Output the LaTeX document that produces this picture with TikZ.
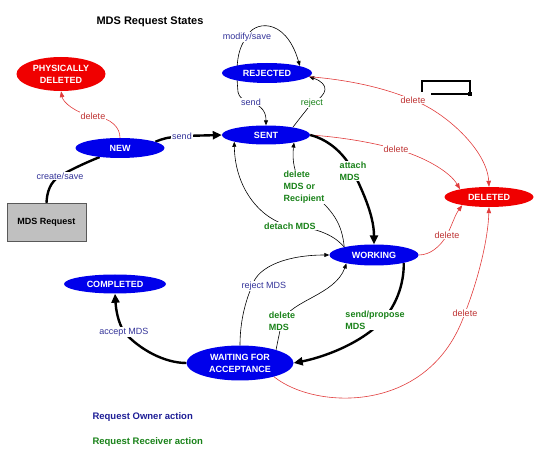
\documentclass[tikz,border=0pt]{standalone}
\usepackage{fontspec}
\setmainfont{Liberation Sans}
\usetikzlibrary{arrows.meta,shapes.geometric}
\definecolor{StateBlue}{RGB}{0,0,235}
\definecolor{StateRed} {RGB}{240,0,0}
\definecolor{OwnerText}{RGB}{51,51,153}
\definecolor{LegBlue}  {RGB}{30,30,150}
\definecolor{RecvText} {RGB}{25,130,25}
\definecolor{DelText}  {RGB}{190,50,50}
\definecolor{DelLine}  {RGB}{225,60,60}
\definecolor{BoxGray}  {RGB}{192,192,192}
\pgfdeclarelayer{back}
\pgfsetlayers{back,main}

\begin{document}
\begin{tikzpicture}[x=1pt,y=-1pt,
  every node/.style={align=center,font=\fontsize{9}{12}\selectfont},
  state/.style={ellipse,fill=StateBlue,text=white,inner sep=0pt,
    font=\fontsize{9}{12}\selectfont\bfseries,minimum width=89pt,minimum height=20pt},
  gone/.style={state,fill=StateRed},
  owner/.style={fill=white,inner sep=1pt,text=OwnerText},
  recv/.style={fill=white,inner sep=1pt,text=RecvText},
  recvb/.style={recv,font=\fontsize{9}{12}\selectfont\bfseries},
  dellbl/.style={fill=white,inner sep=1pt,text=DelText},
  conn/.style={line width=0.6pt,-{Triangle[length=5pt,width=4pt]}},
  redconn/.style={line width=0.6pt,draw=DelLine,-{Triangle[length=6pt,width=4.5pt]}},
  heavy/.style={line width=2.4pt},
  bigtip/.style={-{Triangle[length=9pt,width=8pt]}}]
\useasboundingbox (0,0) rectangle (550,465);
\node[font=\fontsize{11}{13}\selectfont\bfseries] (title) at (150,22) {MDS Request States};
\node[gone,minimum height=34pt] (phys) at (61,74) {PHYSICALLY\\DELETED};
\node[state,minimum width=90pt] (rej) at (267,73) {REJECTED};
\node[state] (new) at (120,148) {NEW};
\node[state,minimum width=88pt,minimum height=19pt] (sent) at (266,135) {SENT};
\node[gone] (del) at (489,197) {DELETED};
\node[state,minimum height=21pt] (work) at (374,255) {WORKING};
\node[state,minimum width=102pt,minimum height=19pt] (comp) at (115,284) {COMPLETED};
\node[state,minimum width=107pt,minimum height=35pt] (wait) at (240,363) {WAITING FOR\\ACCEPTANCE};
\node[draw=black!65,fill=BoxGray,minimum width=79pt,minimum height=38pt,
  font=\fontsize{9}{12}\selectfont\bfseries] (req) at (46.5,222) {MDS Request};
\coordinate (rl) at (238,92);
% legend
\node[anchor=west,text=LegBlue,font=\fontsize{9.5}{12}\selectfont\bfseries] (own) at (89,417) {Request Owner action};
\node[anchor=west,text=RecvText,font=\fontsize{9.5}{12}\selectfont\bfseries] (rcv) at (89,442) {Request Receiver action};
% stray bracket
\draw[line width=1.4pt] (422,92) |- (470,81) -- (470,94) -- (431,94);
\fill (468,92) rectangle (472,96);
\begin{pgfonlayer}{back}
\draw[heavy] (req.north) .. controls (47,192) and (50,182) .. (60,176) node[owner]{create/save}
  .. controls (70,170) and (85,163) .. (new.204);
\draw[heavy,bigtip] (new.10) .. controls (165,138) .. (182,136) node[owner]{send} -- (sent.west);
\draw[redconn] (new.north) .. controls (120,128) and (112,118) .. (93,116) node[dellbl]{delete}
  .. controls (75,113) and (63,102) .. (phys.south);
\draw[conn] (rl) .. controls (236,70) and (236,50) .. (247,37) node[owner]{modify/save}
  .. controls (252,22) and (285,15) .. (rej.12);
\draw[conn] (rl) .. controls (240,98) .. (251,102) node[owner]{send}
  .. controls (262,106) and (266,112) .. (sent.north);
\draw[conn] (sent.16) .. controls (300,118) .. (312,103) node[recv]{reject}
  .. controls (328,95) and (330,84) .. (rej.-5);
\draw[redconn] (rej.-5) .. controls (350,80) and (385,88) .. (413,100) node[dellbl]{delete}
  .. controls (445,112) and (487,150) .. (del.north);
\draw[redconn] (sent.east) .. controls (340,137) and (370,142) .. (396,149) node[dellbl]{delete}
  .. controls (425,157) and (450,172) .. (del.165);
\draw[heavy,bigtip] (sent.east) .. controls (330,140) and (345,155) .. (353,171)
  node[recvb,align=left]{attach\\MDS} .. controls (362,190) and (374,215) .. (work.north);
\draw[conn] (work.165) .. controls (342,225) and (335,210) .. (304,187)
  node[recvb,align=left]{delete\\MDS or\\Recipient} .. controls (294,175) and (292,160) .. (sent.-15);
\draw[conn] (work.165) .. controls (338,240) and (325,228) .. (290,226) node[recvb]{detach MDS}
  .. controls (262,220) and (235,190) .. (sent.192);
\draw[conn] (wait.north) .. controls (240,320) and (246,300) .. (252,286) node[owner,xshift=12pt]{reject MDS}
  .. controls (258,265) and (290,255) .. (work.west);
\draw[conn] (wait.20) .. controls (278,340) .. (282,321) node[recvb,align=left]{delete\\MDS}
  .. controls (292,300) and (335,295) .. (work.197);
\draw[heavy,bigtip] (work.-15) .. controls (404,285) and (396,305) .. (383,320)
  node[recvb,align=left,xshift=-8pt]{send/propose\\MDS} .. controls (360,345) and (320,358) .. (wait.east);
\draw[redconn] (work.east) .. controls (430,255) and (440,247) .. (447,235) node[dellbl]{delete}
  .. controls (452,225) and (455,215) .. (del.197);
\draw[redconn] (wait.-22) .. controls (315,410) and (430,415) .. (465,313) node[dellbl]{delete}
  .. controls (478,280) and (488,240) .. (del.south);
\draw[heavy,bigtip] (wait.west) .. controls (165,363) and (140,350) .. (124,332) node[owner]{accept MDS}
  .. controls (118,322) and (116,310) .. (comp.south);
\end{pgfonlayer}
\end{tikzpicture}
\end{document}
